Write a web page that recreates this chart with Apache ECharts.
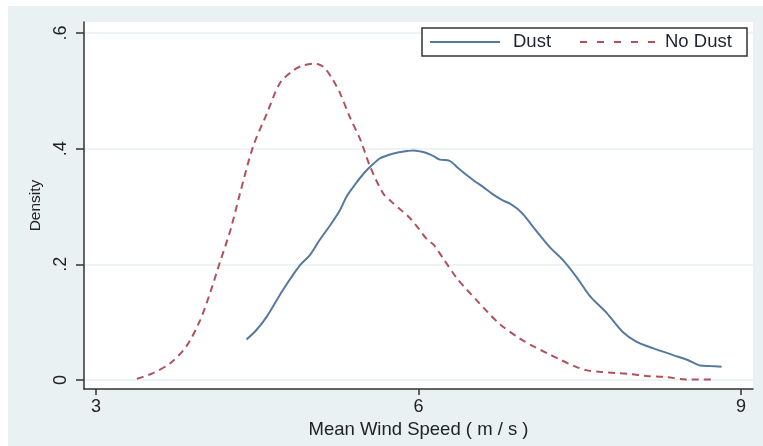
<!DOCTYPE html>
<html>
<head>
<meta charset="utf-8">
<script src="https://cdn.jsdelivr.net/npm/echarts@6/dist/echarts.min.js"></script>
<style>
html,body{margin:0;padding:0;background:#ffffff;}
#chart{width:763px;height:446px;}
</style>
</head>
<body>
<div id="chart"></div>
<script>
const xTicks = [3, 6, 9];
const yTicks = [0, 0.2, 0.4, 0.6];
const yTickLabels = {0: '0', 0.2: '.2', 0.4: '.4', 0.6: '.6'};
const seriesNames = ['Dust', 'No Dust'];

const dustX = [4.40,4.49,4.59,4.74,4.90,4.99,5.08,5.18,5.27,5.33,5.41,5.49,5.57,5.64,5.72,5.80,5.90,5.95,6.02,6.08,6.14,6.20,6.29,6.37,6.45,6.52,6.60,6.70,6.78,6.85,6.92,6.98,7.04,7.13,7.23,7.34,7.47,7.60,7.75,7.90,8.03,8.18,8.37,8.50,8.62,8.71,8.82];
const dustY = [0.070,0.086,0.110,0.156,0.199,0.216,0.242,0.268,0.294,0.317,0.338,0.357,0.372,0.383,0.389,0.393,0.396,0.397,0.395,0.392,0.387,0.381,0.379,0.366,0.354,0.344,0.334,0.320,0.311,0.305,0.296,0.285,0.271,0.250,0.228,0.208,0.178,0.144,0.116,0.083,0.066,0.055,0.043,0.035,0.025,0.024,0.023];

const noDustX = [3.38,3.53,3.69,3.84,3.97,4.06,4.15,4.25,4.34,4.46,4.59,4.71,4.84,4.93,5.02,5.08,5.13,5.20,5.27,5.36,5.46,5.55,5.67,5.75,5.83,5.92,6.00,6.08,6.14,6.23,6.36,6.45,6.54,6.64,6.76,6.94,7.07,7.20,7.32,7.45,7.56,7.70,7.84,7.98,8.12,8.31,8.49,8.76];
const noDustY = [0.002,0.012,0.029,0.058,0.104,0.150,0.202,0.259,0.323,0.403,0.461,0.513,0.536,0.544,0.547,0.545,0.539,0.520,0.496,0.455,0.415,0.369,0.323,0.308,0.295,0.280,0.262,0.243,0.234,0.210,0.175,0.156,0.138,0.118,0.096,0.072,0.058,0.046,0.035,0.024,0.017,0.014,0.012,0.010,0.007,0.005,0.001,0.001];

const dustData = dustX.map((x, i) => [x, dustY[i]]);
const noDustData = noDustX.map((x, i) => [x, noDustY[i]]);

const dustColor = '#56799f';
const noDustColor = '#b0525c';
const font = 'Liberation Sans, Arial, sans-serif';

const chart = echarts.init(document.getElementById('chart'));
chart.setOption({
  animation: false,
  backgroundColor: '#ffffff',
  graphic: [
    {type: 'rect', z: -10, silent: true, shape: {x: 8, y: 6, width: 755, height: 440}, style: {fill: '#e9f1f3'}},
    {type: 'rect', z: 50, silent: true, shape: {x: 422, y: 28, width: 325, height: 28},
      style: {fill: '#ffffff', stroke: '#333333', lineWidth: 1.5}},
    {type: 'line', z: 51, silent: true, shape: {x1: 430, y1: 42, x2: 500, y2: 42},
      style: {stroke: dustColor, lineWidth: 2}},
    {type: 'text', z: 51, silent: true, x: 513, y: 42,
      style: {text: seriesNames[0], fill: '#1f2233', font: '18.5px ' + font, verticalAlign: 'middle'}},
    {type: 'line', z: 51, silent: true, shape: {x1: 580, y1: 42, x2: 655, y2: 42},
      style: {stroke: noDustColor, lineWidth: 2, lineDash: [7, 10]}},
    {type: 'text', z: 51, silent: true, x: 665, y: 42,
      style: {text: seriesNames[1], fill: '#1f2233', font: '18.5px ' + font, verticalAlign: 'middle'}}
  ],
  grid: {left: 84, right: 10, top: 22, bottom: 57, show: true, backgroundColor: '#ffffff', borderWidth: 0},
  xAxis: {
    type: 'value', min: 2.888, max: 9.112,
    name: 'Mean Wind Speed ( m / s )', nameLocation: 'middle', nameGap: 25,
    nameTextStyle: {fontFamily: font, fontSize: 18.5, color: '#222222', verticalAlign: 'top'},
    axisLine: {show: true, onZero: false, lineStyle: {color: '#333333', width: 1.5}},
    axisTick: {show: true, customValues: xTicks, length: 6, lineStyle: {color: '#333333', width: 1.5}},
    axisLabel: {customValues: xTicks, fontFamily: font, fontSize: 18, color: '#222222', margin: 9},
    splitLine: {show: false}
  },
  yAxis: {
    type: 'value', min: -0.0156, max: 0.619,
    name: 'Density', nameLocation: 'middle', nameGap: 35, nameRotate: 90,
    nameTextStyle: {fontFamily: font, fontSize: 15.5, color: '#222222'},
    axisLine: {show: true, onZero: false, lineStyle: {color: '#333333', width: 1.5}},
    axisTick: {show: true, customValues: yTicks, length: 8, lineStyle: {color: '#333333', width: 1.5}},
    axisLabel: {customValues: yTicks, rotate: 90, fontFamily: font, fontSize: 18, color: '#222222', margin: 14,
      formatter: v => yTickLabels[Math.round(v * 10) / 10]},
    splitLine: {show: true, lineStyle: {color: '#edf4f4', width: 2}}
  },
  series: [
    {
      name: seriesNames[0], type: 'line', data: dustData, showSymbol: false, smooth: 0.3,
      lineStyle: {color: dustColor, width: 2}, itemStyle: {color: dustColor}
    },
    {
      name: seriesNames[1], type: 'line', data: noDustData, showSymbol: false, smooth: 0.3,
      lineStyle: {color: noDustColor, width: 2, type: [7, 5]}, itemStyle: {color: noDustColor}
    }
  ]
});
</script>
</body>
</html>
